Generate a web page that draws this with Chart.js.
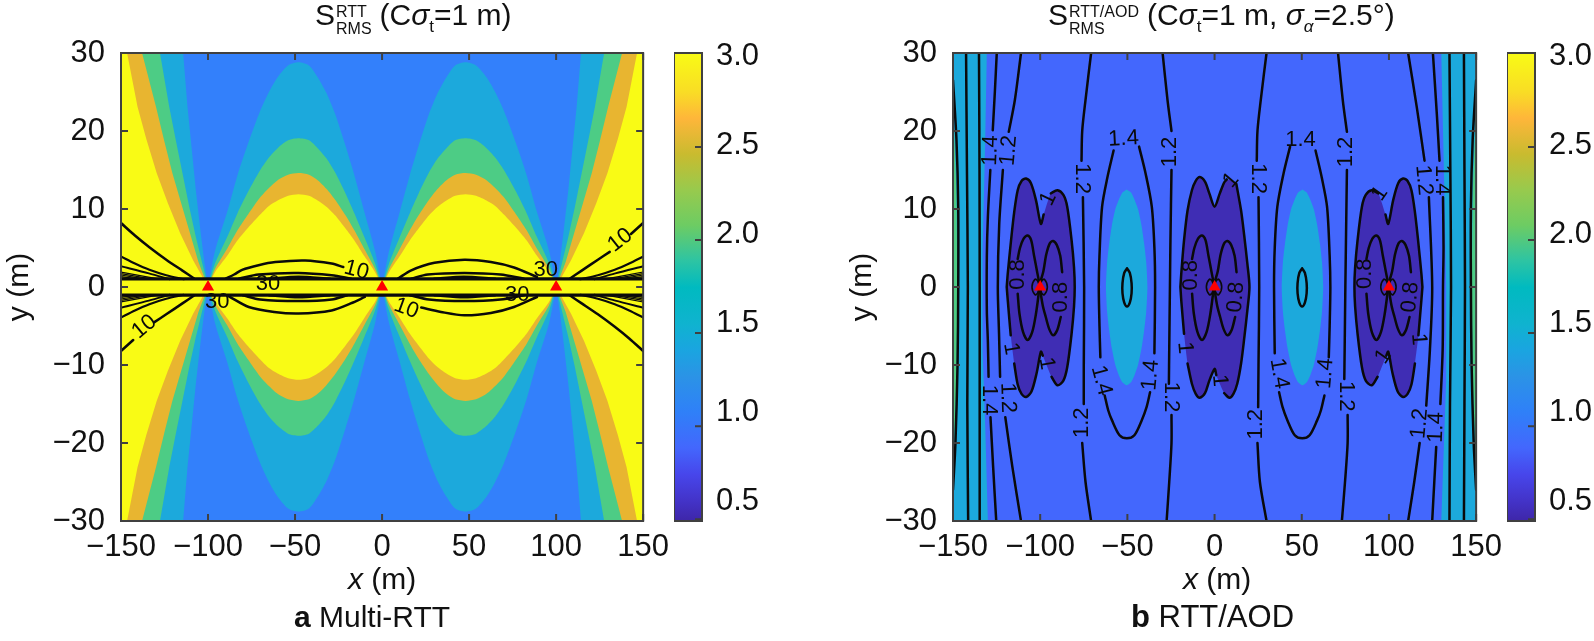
<!DOCTYPE html>
<html>
<head>
<meta charset="utf-8">
<title>SRMS contours</title>
<script src="https://cdn.jsdelivr.net/npm/chart.js@4"></script>
<style>
    html, body { margin: 0; padding: 0; background: #fff; }
    body { position: relative; width: 1594px; height: 641px; overflow: hidden; font-family: "Liberation Sans", Arial, sans-serif; color: #111; }
    canvas { position: absolute; top: 0; }
    .label { position: absolute; white-space: nowrap; font-size: 30px; line-height: 34px; }
    .stack { display: inline-block; vertical-align: -9px; font-size: 16px; line-height: 17px; text-align: left; margin-left: 1px; margin-right: 8px; }
    .stack span { display: block; }
    sub { font-size: 17px; line-height: 0; }
</style>
</head>
<body>
<canvas id="plotA" width="677" height="641" style="left:0px"></canvas>
<canvas id="barA" width="103" height="641" style="left:674px"></canvas>
<canvas id="plotB" width="678" height="641" style="left:832px"></canvas>
<canvas id="barB" width="103" height="641" style="left:1507px"></canvas>

<div class="label" style="left:315px;top:-2px">S<span class="stack"><span>RTT</span><span>RMS</span></span>(C<i>σ</i><sub>t</sub>=1 m)</div>
<div class="label" style="left:1048px;top:-2px">S<span class="stack"><span>RTT/AOD</span><span>RMS</span></span>(C<i>σ</i><sub>t</sub>=1 m, <i>σ</i><sub><i>α</i></sub>=2.5°)</div>
<div class="label" style="left:348px;top:562px"><i>x</i> (m)</div>
<div class="label" style="left:1183px;top:562px"><i>x</i> (m)</div>
<div class="label" style="left:294px;top:600px"><b>a</b> Multi-RTT</div>
<div class="label" style="left:1131px;top:600px;font-size:31px"><b>b</b> RTT/AOD</div>

<script>
// Axis ticks
const xTicks = [-150, -100, -50, 0, 50, 100, 150];
const yTicks = [-30, -20, -10, 0, 10, 20, 30];
const colorbarTicks = [0.5, 1, 1.5, 2, 2.5, 3];
const colorbarTickMarks = [2.49, 1.967, 1.444, 0.921, 0.398];
const anchorsX = [-100, 0, 100];

// Colorbar
const colorbarValues = [0.388, 0.5, 0.65, 0.8, 1.0, 1.2, 1.35, 1.5, 1.7, 1.85, 2.05, 2.25, 2.45, 2.65, 2.8, 3.018];
const colorbarColors = ['#3e26a8', '#4333c8', '#4746eb', '#4367fd', '#2f80f8', '#2b93e6', '#1aa5e0', '#0fb3cf', '#00bac0', '#2dc4a3', '#6dcc63', '#98ca4d', '#c9bb2f', '#feb63a', '#f9dd25', '#f9fb15'];

// Panel a: arches between anchors (x from 0 to 100, mirrored to the other side)
const archX = [0, 4, 10, 16, 21, 27, 32, 37, 42, 48, 54, 60, 65, 70, 77, 83, 89, 96, 100];
const arch15 = [0, 4.6, 9.5, 14.4, 18.1, 22.2, 24.9, 26.9, 28.4, 28.8, 28.4, 26.9, 25, 22.6, 18.4, 14.4, 9.6, 4.6, 0];
const arch20 = [0, 3, 6.3, 9.5, 12, 14.7, 16.5, 17.8, 18.8, 19.06, 18.8, 17.8, 16.6, 15, 12.2, 9.5, 6.4, 3, 0];
const arch25 = [0, 2.3, 4.8, 7.3, 9.2, 11.2, 12.6, 13.7, 14.4, 14.6, 14.4, 13.7, 12.7, 11.5, 9.3, 7.3, 4.9, 2.3, 0];
const arch30 = [0, 1.9, 3.9, 6, 7.5, 9.2, 10.3, 11.1, 11.7, 11.9, 11.7, 11.1, 10.4, 9.3, 7.6, 6, 4, 1.9, 0];

// Panel a: outer wedges in the upper left quadrant
const wedge15 = [[-100, 0], [-102.3, 3.5], [-104.5, 7.5], [-107, 12.4], [-109.5, 18], [-111.8, 23.1], [-114.3, 30]];
const wedge20 = [[-100, 0], [-103.5, 3.2], [-107, 6.4], [-110.8, 10.3], [-114.7, 14.6], [-118.5, 18.8], [-122.3, 23.1], [-127.6, 30]];
const wedge25 = [[-100, 0], [-105.5, 3.2], [-110.9, 7.3], [-115.5, 10.8], [-120.5, 14.6], [-125, 18.6], [-129.9, 23.1], [-137.9, 30]];
const wedge30 = [[-100, 0], [-108.5, 3.4], [-116, 6.9], [-123, 10.7], [-129.5, 14.6], [-135.5, 19], [-140.5, 23.1], [-146.5, 30]];

// Panel a: contour lines
const fan10 = [[-150, 8.2], [-142, 6.6], [-133.7, 5.1], [-124, 3.5], [-114.7, 2.1], [-108, 1.1]];
const fan10Gap = [[-150, 8.2], [-143, 6.8], null, [-130.8, 4.5], [-124, 3.5], [-114.7, 2.1], [-108, 1.1]];
const fan2 = [[-150, 3.9], [-142, 3], [-133.7, 2.2], [-124, 1.5], [-114, 1]];
const fan3 = [[-150, 2.65], [-134, 1.75], [-122, 1]];
const fan4 = [[-150, 1.92], [-128, 1]];
const fan5 = [[-150, 1.72], [-132, 1]];
const fan6 = [[-150, 1.54], [-136, 1]];
const fan7 = [[-150, 1.33], [-140, 1]];
const bandTop = [[-150, 1.05], [150, 1.05]];
const bandBottom = [[-150, -1.05], [150, -1.05]];

const lensLeftTop10 = [[-89.9, 1.07], [-85, 1.6], [-80.4, 2.2], [-71, 2.8], [-61.3, 3.2], [-44.2, 3.4], [-29, 3], [-22.3, 2.56]];
const lensLeftTop20 = [[-82.3, 1.07], [-70.9, 1.6], [-48, 1.8], [-29, 1.5], [-17.7, 1.07]];
const lensLeftTop30 = [[-65, 1.05], [-48, 1.3], [-30, 1.05]];
const lensLeftBottom10 = [[-88, -1.2], [-76.6, -2.56], [-62, -3.2], [-48, -3.4], [-29, -3], [-18, -2.1], [-9.9, -1.28]];
const lensLeftBottom20 = [[-80, -1.05], [-70, -1.6], [-48, -1.8], [-29, -1.6], [-20, -1.05]];
const lensLeftBottom30 = [[-65, -1.05], [-48, -1.3], [-30, -1.05]];
const lensRightTop10 = [[9.1, 1.07], [16.8, 2.14], [30.1, 3.1], [47.3, 3.5], [62.5, 3.2], [75.8, 2.5], [89, 1.28]];
const lensRightTop20 = [[16.8, 1.07], [26.3, 1.6], [47.3, 1.8], [68, 1.6], [81.5, 1.07]];
const lensRightTop30 = [[30, 1.05], [47, 1.3], [65, 1.05]];
const lensRightBottom10 = [[22.5, -2.64], [33.9, -3.2], [47.3, -3.63], [62.5, -3.33], [75.8, -2.56], [89, -1.28]];
const lensRightBottom20 = [[16, -1.05], [27, -1.6], [47.3, -1.8], [68, -1.6], [81.5, -1.05]];
const lensRightBottom30 = [[30, -1.05], [47, -1.3], [65, -1.05]];

// text, x, y, rotation in degrees
const labelsA = [
    ['10', -14.7, 2.14, 15], ['30', -65.5, 0.43, 0], ['30', -94.7, -1.9, 0], ['10', 13.9, -2.77, 20],
    ['30', 94, 2.14, 0], ['30', 77.7, -1.07, 0], ['10', 136.8, 6, -38], ['10', -136.6, -5.1, -40]
];

// Panel b: fills
const cyanLeft = [[-150, 30], [-130.6, 30], [-131.6, 18], [-133, 5], [-133.3, 0], [-132.8, -8], [-131.5, -18], [-130, -30], [-150, -30]];
const cyanRight = [[150, 30], [130, 30], [131.8, 12], [132.8, 0], [132.8, -12], [130, -30], [150, -30]];
const greenSliver = [[-150, 24], [-148, 12], [-147.5, 0], [-148, -12], [-150, -24]];
const cyanOval = [[-50.4, 12.5], [-47.9, 12.1], [-45.9, 11.2], [-43.9, 10], [-41.9, 7.9], [-40.4, 5.6], [-39.2, 3.2], [-38.5, 0], [-39.2, -3.2], [-40.4, -5.6], [-41.9, -7.9], [-43.9, -10], [-45.9, -11.3], [-47.9, -12.2], [-50.4, -12.6], [-52.9, -12.2], [-54.9, -11.3], [-56.9, -10], [-58.9, -7.9], [-60.4, -5.6], [-61.6, -3.2], [-62.3, 0], [-61.6, 3.2], [-60.4, 5.6], [-58.9, 7.9], [-56.9, 10], [-54.9, 11.2], [-52.9, 12.1]];

// Panel b: the 1 contour around each anchor, null marks a label gap
const lobeSide = [[-119.2, 0], [-118.6, 1.7], [-116.7, 6], [-114.9, 9.6], [-112.9, 12.4], [-110.7, 13.6], [-108.1, 13.9], [-105.3, 13.3], [-102.4, 11.1], [-99.6, 8.1], [-98, 9.3], null, [-93.9, 12], [-90.1, 12.4], [-86.7, 11.8], [-84.5, 10.3], [-82, 6], [-80.6, 2.5], [-80.2, 0], [-80.6, -2.5], [-82, -6], [-84.5, -10.3], [-86.7, -12], [-90.1, -12.6], [-93.5, -11.5], null, [-98.5, -8.8], [-99.6, -8.3], [-102, -11], [-105, -13.4], [-108.1, -14.1], [-110.7, -13.7], [-112.9, -12.5], [-114.9, -9.8], null, [-116.9, -6.2], [-118.6, -1.7], [-119.2, 0]];
const lobeCentre = [[-19.6, 0], [-19, 2], [-17.5, 6], [-15.5, 9.8], [-13, 12.4], [-10.8, 13.6], [-8.5, 14.1], [-5.5, 13.5], [-3, 12], [0, 10.3], [3, 12], [5.5, 13.4], [7, 13.8], null, [12.5, 13.2], [15.2, 9.8], [17, 6.6], [18.8, 3], [20, 0], [18.8, -3], [17, -6.6], [15.2, -9.8], [13, -12.4], [10.8, -13.7], [8.5, -14.2], [5.5, -13.6], null, [1, -11.3], [0, -10.5], [-3, -12], [-5.5, -13.6], [-8.5, -14.2], [-10.8, -13.7], [-13, -12.4], [-15.5, -9.8], null, [-17.5, -6], [-19, -2], [-19.6, 0]];

// Panel b: the 0.8 contours next to the anchor at -100, repeated at the others
const arcUpperLeft = [[-112.9, 3.6], [-111.6, 5], [-109.5, 6.2], [-107.2, 6.6], [-105.2, 6], [-103.5, 4], [-101.8, 2], [-100.6, 0.6]];
const arcUpperRight = [[-100, 0.6], [-98.2, 2], [-96.5, 4.2], [-94.5, 5.6], [-92.6, 5.9], [-90.5, 5.4], [-88.5, 4], [-87.4, 1.9]];
const arcLowerLeft = [[-112.9, -0.85], [-111.9, -3.4], [-109.8, -5.8], [-107.2, -6.8], [-104.6, -5.8], [-102.4, -3.4], [-100.6, -0.4]];
const arcLowerRight = [[-100, -0.4], [-98.5, -2.4], [-96.8, -3.85], [-94.8, -5.4], [-92.6, -6.2], [-90.2, -5.5], [-88.2, -3.85]];
const bowtieLeft = [[-100.3, 0], [-101.5, 0.8], [-103, 1], [-104.7, 0], [-103, -1], [-101.5, -0.8], [-100.3, 0]];
const bowtieRight = [[-100.3, 0], [-99.1, 0.8], [-97.6, 1], [-95.9, 0], [-97.6, -1], [-99.1, -0.8], [-100.3, 0]];

// Panel b: vertical contours
const edgeLine = [[-150, 26.5], [-148, 18.8], [-147, 10.3], [-147, 0], [-147.4, -10], [-148.6, -20], [-150, -26]];
const farLeftA = [[-142.5, 30], [-142, 15], [-141.5, 0], [-141.8, -15], [-141.3, -30]];
const farLeftB = [[-135.1, 30], [-134.8, 15], [-134.7, 0], [-134.7, -15], [-134.7, -30]];
const left14 = [[-124.9, 30], [-126, 25], [-127.2, 20.1], null, [-128.6, 15], [-130, 9], [-130.6, 3.85], [-130.6, -3], [-130, -7], [-129.6, -11.5], null, [-128.5, -16.7], [-127, -23], [-125.2, -30]];
const left12 = [[-111, 30], [-114.5, 24], [-118, 19.9], null, [-121.4, 15], [-123.5, 8], [-124.3, 0], [-123.6, -6], [-123, -11.5], null, [-120, -16.7], [-116, -23], [-111, -30]];
const farRightA = [[134.7, 30], [135.2, 15], [135.6, 0], [135, -15], [134.7, -30]];
const farRightB = [[143, 30], [143.3, 15], [143.6, 0], [143.3, -15], [143, -30]];
const right14 = [[125.2, 30], [127.5, 22], [129, 16.2], null, [131, 11.5], [131.3, 5], [131, 0], [130.8, -8], [129.5, -15], null, [127.1, -20.5], [126, -25], [124.8, -30]];
const right12 = [[111, 30], [116, 23], [120.4, 16.2], null, [122.9, 11.5], [124.8, 0], [123.5, -8], [121.4, -15.2], null, [117.6, -20], [114.5, -25], [111, -30]];
const mid12A = [[-70.8, 30], [-74, 24], [-75.9, 20], [-76.3, 16.2], null, [-75.5, 11.5], [-74.8, 0], [-75, -10], [-75, -15], null, [-75.9, -20], [-74, -25], [-70.8, -30]];
const mid12B = [[-29.8, 30], [-27, 24], [-24.7, 20], null, [-24.7, 15], [-25.3, 6], [-25.6, 0], [-26, -8], [-26.2, -12.4], null, [-24.7, -16.4], [-24.7, -20], [-26, -25], [-27.5, -30]];
const mid12C = [[29.8, 30], [26.5, 24], [24.6, 20], [24.2, 16.2], null, [25.2, 11.5], [25.6, 0], [25.2, -10], [25, -15.4], null, [24.6, -20], [26, -25], [29.8, -30]];
const mid12D = [[70.8, 30], [73.5, 24], [75.9, 19.9], null, [75.9, 15], [75, 0], [74.6, -8], [74.4, -11.8], null, [76.3, -16.4], [76.3, -20], [74.8, -25], [73, -30]];
const oval14 = [[-57.9, 17.5], [-61.5, 14], [-64.5, 10.3], [-66, 4], [-66.4, 0], [-66, -5], [-65.5, -9], null, [-63, -13.9], [-61, -15.8], [-58.8, -17.1], [-54.5, -19], [-50.3, -19.4], [-46, -19], [-41.8, -17.1], [-39, -15.4], [-37, -13.5], null, [-34.5, -8.5], [-34.1, 0], [-34.5, 5], [-36, 10.3], [-39.5, 14.5], [-43.3, 18]];
const ovalInner = [[-50.2, 2.4], [-48.6, 1.8], [-47.6, 0.5], [-47.6, -0.8], [-48.6, -2], [-50.2, -2.5], [-51.8, -2], [-52.8, -0.8], [-52.8, 0.5], [-51.8, 1.8], [-50.2, 2.4]];

const labelsB = [
    ['1.4', -128.5, 17.5, -88], ['1.2', -118, 17.5, -85], ['1.2', -75.9, 13.9, 90], ['1.4', -52.2, 19, -3], ['1.2', -25.6, 17.3, -90],
    ['1', -95.3, 11.3, -65], ['0.8', -112.9, 1.6, -90], ['0.8', -88.2, -1.3, -90], ['1', -116.7, -7.9, 80], ['1', -96.4, -9.8, 80],
    ['1.4', -129.3, -14.5, 90], ['1.2', -118.6, -14.2, 88], ['1.2', -76.3, -17.4, -90], ['1.4', -64.9, -12, 75], ['1.4', -36.7, -11.3, -85],
    ['1.2', -24.7, -14.1, 90], ['1', -17.1, -7.8, 85], ['0.8', -13.3, 1.5, -90], ['0.8', 12.3, -1.3, -85], ['1', 2.8, -12, 85],
    ['1', 9.5, 13.7, -50], ['1.2', 25.2, 13.9, 90], ['1.4', 49.3, 18.8, 0], ['1.2', 75.5, 17.3, -90], ['1', 94.8, 12, -55],
    ['1.2', 119.9, 13.7, 85], ['1.4', 130.5, 13.7, 90], ['0.8', 86.5, 1.7, -90], ['0.8', 112.3, -1.3, -85], ['1', 117, -6.7, 85],
    ['1', 96.8, -8.9, -55], ['1.4', 37, -11.1, 80], ['1.4', 63.5, -11.1, -85], ['1.2', 75.5, -14, 90], ['1.2', 23.7, -17.6, -90],
    ['1.2', 117.6, -17.5, -85], ['1.4', 127.1, -18, -88]
];

const CONTOUR_COLOR = '#0a0a0a';
const FRAME_COLOR = '#404040';
const TICK_SIZE = 31;

Chart.defaults.font.family = '"Liberation Sans", Arial, sans-serif';
Chart.defaults.animation = false;

// Helpers
const mirrorX = a => a.map(p => p && [-p[0], p[1]]);
const mirrorY = a => a.map(p => p && [p[0], -p[1]]);
const shiftX = (a, dx) => a.map(p => p && [p[0] + dx, p[1]]);
const toPoints = a => a.map(p => p ? { x: p[0], y: p[1] } : { x: NaN, y: NaN });
const minusSign = v => String(v).replace('-', '\u2212');

function fillSet(list, color, tension = 0) {
    return {
        data: toPoints(list.filter(p => p)),
        showLine: true,
        pointRadius: 0,
        borderWidth: 0,
        borderColor: color,
        backgroundColor: color,
        fill: 'shape',
        tension
    };
}

function lineSet(list, width = 2.5) {
    return {
        data: toPoints(list),
        showLine: true,
        pointRadius: 0,
        borderWidth: width,
        borderColor: CONTOUR_COLOR,
        fill: false,
        tension: 0.3,
        borderCapStyle: 'round',
        borderJoinStyle: 'round'
    };
}

function markerSet() {
    return {
        data: anchorsX.map(x => ({ x, y: 0 })),
        showLine: false,
        pointStyle: 'triangle',
        pointRadius: 7,
        pointBorderWidth: 0,
        backgroundColor: '#ff0000',
        borderColor: '#ff0000'
    };
}

// Painted in list order, so later sets sit on top
function paintOrder(sets) {
    sets.forEach((s, i) => { s.order = sets.length - i; });
    return sets;
}

const axisFrame = {
    id: 'axisFrame',
    afterDraw(chart, args, opts) {
        const { ctx, chartArea: a, scales } = chart;
        const len = 7;
        ctx.save();
        ctx.strokeStyle = FRAME_COLOR;
        ctx.lineWidth = 2;
        ctx.beginPath();
        if (opts.marks) {
            opts.marks.forEach(v => {
                const py = scales.y.getPixelForValue(v);
                ctx.moveTo(a.right, py);
                ctx.lineTo(a.right - len, py);
            });
        } else {
            xTicks.forEach(v => {
                const px = scales.x.getPixelForValue(v);
                ctx.moveTo(px, a.bottom);
                ctx.lineTo(px, a.bottom - len);
                ctx.moveTo(px, a.top);
                ctx.lineTo(px, a.top + len);
            });
            yTicks.forEach(v => {
                const py = scales.y.getPixelForValue(v);
                ctx.moveTo(a.left, py);
                ctx.lineTo(a.left + len, py);
                ctx.moveTo(a.right, py);
                ctx.lineTo(a.right - len, py);
            });
        }
        ctx.stroke();
        ctx.strokeRect(a.left, a.top, a.right - a.left, a.bottom - a.top);
        ctx.restore();
    }
};

const contourText = {
    id: 'contourText',
    afterDatasetsDraw(chart, args, opts) {
        const { ctx, scales } = chart;
        ctx.save();
        ctx.font = opts.size + 'px "Liberation Sans", Arial, sans-serif';
        ctx.fillStyle = '#0a0a0a';
        ctx.textAlign = 'center';
        ctx.textBaseline = 'middle';
        (opts.labels || []).forEach(([text, x, y, rot]) => {
            ctx.save();
            ctx.translate(scales.x.getPixelForValue(x), scales.y.getPixelForValue(y));
            ctx.rotate(rot * Math.PI / 180);
            ctx.fillText(text, 0, 0);
            ctx.restore();
        });
        ctx.restore();
    }
};

function plotOptions(labels, titlePad) {
    return {
        responsive: false,
        events: [],
        layout: { padding: { top: 53, right: 30, bottom: 0, left: 0 } },
        plugins: {
            legend: { display: false },
            tooltip: { enabled: false },
            contourText: { labels, size: 22 }
        },
        scales: {
            x: {
                type: 'linear',
                min: -150,
                max: 150,
                grid: { display: false, drawTicks: false },
                border: { display: false },
                afterBuildTicks: s => { s.ticks = xTicks.map(value => ({ value })); },
                afterFit: s => { s.height = 120; },
                ticks: { color: '#111', font: { size: TICK_SIZE }, padding: 8, maxRotation: 0, autoSkip: false, callback: minusSign }
            },
            y: {
                type: 'linear',
                min: -30,
                max: 30,
                grid: { display: false, drawTicks: false },
                border: { display: false },
                afterBuildTicks: s => { s.ticks = yTicks.map(value => ({ value })); },
                afterFit: s => { s.width = 121; },
                title: { display: true, text: 'y (m)', color: '#111', font: { size: 30 }, padding: { top: titlePad, bottom: 0 } },
                ticks: { color: '#111', font: { size: TICK_SIZE }, padding: 16, autoSkip: false, callback: minusSign }
            }
        }
    };
}

function buildPanelA() {
    const sets = [];
    const rect = [[-150, -30], [150, -30], [150, 30], [-150, 30]];
    sets.push(fillSet(rect, '#3380fb'));
    const levels = [
        [arch15, wedge15, '#1ca9dc'],
        [arch20, wedge20, '#4dcc85'],
        [arch25, wedge25, '#e8b530'],
        [arch30, wedge30, '#f9fb15']
    ];
    levels.forEach(([arch, wedge, color]) => {
        const top = archX.map((x, i) => [x, arch[i]]);
        const lens = top.concat(mirrorY(top).reverse());
        sets.push(fillSet(lens, color, 0.25));
        sets.push(fillSet(mirrorX(lens), color, 0.25));
        const corner = [[-150, 0]].concat(wedge, [[-150, 30]]);
        sets.push(fillSet(corner, color));
        sets.push(fillSet(mirrorX(corner), color));
        sets.push(fillSet(mirrorY(corner), color));
        sets.push(fillSet(mirrorY(mirrorX(corner)), color));
    });
    sets.push(fillSet([[-150, -1], [150, -1], [150, 1], [-150, 1]], '#f9fb15'));

    sets.push(lineSet(fan10));
    sets.push(lineSet(mirrorX(fan10Gap)));
    sets.push(lineSet(mirrorY(fan10Gap)));
    sets.push(lineSet(mirrorY(mirrorX(fan10))));
    [[fan2, 2.2], [fan3, 2], [fan4, 1.2], [fan5, 1.2], [fan6, 1.2], [fan7, 1.2]].forEach(([f, w]) => {
        sets.push(lineSet(f, w));
        sets.push(lineSet(mirrorX(f), w));
        sets.push(lineSet(mirrorY(f), w));
        sets.push(lineSet(mirrorY(mirrorX(f)), w));
    });
    [lensLeftTop10, lensLeftTop20, lensLeftTop30, lensLeftBottom10, lensLeftBottom20, lensLeftBottom30,
        lensRightTop10, lensRightTop20, lensRightTop30, lensRightBottom10, lensRightBottom20, lensRightBottom30
    ].forEach(l => sets.push(lineSet(l)));
    sets.push(lineSet(bandTop, 3.2));
    sets.push(lineSet(bandBottom, 3.2));
    sets.push(markerSet());
    return paintOrder(sets);
}

function buildPanelB() {
    const sets = [];
    sets.push(fillSet([[-150, -30], [150, -30], [150, 30], [-150, 30]], '#4367fd'));
    sets.push(fillSet(cyanLeft, '#1ca9dc'));
    sets.push(fillSet(cyanRight, '#1ca9dc'));
    sets.push(fillSet(greenSliver, '#4dcc85'));
    sets.push(fillSet(mirrorX(greenSliver), '#4dcc85'));
    sets.push(fillSet(cyanOval, '#1ca9dc', 0.2));
    sets.push(fillSet(mirrorX(cyanOval), '#1ca9dc', 0.2));
    sets.push(fillSet(lobeSide, '#3f2db4', 0.2));
    sets.push(fillSet(lobeCentre, '#3f2db4', 0.2));
    sets.push(fillSet(mirrorX(lobeSide), '#3f2db4', 0.2));

    [edgeLine, mirrorX(edgeLine), farLeftA, farLeftB, left14, left12, farRightA, farRightB, right14, right12,
        mid12A, mid12B, mid12C, mid12D, oval14, mirrorX(oval14), ovalInner, mirrorX(ovalInner),
        lobeSide, lobeCentre, mirrorX(lobeSide)
    ].forEach(l => sets.push(lineSet(l)));
    [0, 100, 200].forEach(dx => {
        [arcUpperLeft, arcUpperRight, arcLowerLeft, arcLowerRight].forEach(a => {
            sets.push(lineSet(shiftX(a, dx)));
        });
        [bowtieLeft, bowtieRight].forEach(a => {
            sets.push(lineSet(shiftX(a, dx), 1.6));
        });
    });
    sets.push(markerSet());
    return paintOrder(sets);
}

function drawColorbar(id) {
    new Chart(document.getElementById(id), {
        type: 'bar',
        data: {
            labels: [''],
            datasets: [{
                data: [[colorbarValues[0], colorbarValues[colorbarValues.length - 1]]],
                borderWidth: 0,
                barPercentage: 1,
                categoryPercentage: 1,
                backgroundColor: c => {
                    const area = c.chart.chartArea;
                    if (!area) return colorbarColors[0];
                    const y = c.chart.scales.y;
                    const grad = c.chart.ctx.createLinearGradient(0, area.bottom, 0, area.top);
                    const span = y.max - y.min;
                    colorbarValues.forEach((v, i) => grad.addColorStop((v - y.min) / span, colorbarColors[i]));
                    return grad;
                }
            }]
        },
        options: {
            responsive: false,
            events: [],
            layout: { padding: { top: 53, right: 0, bottom: 120, left: 0 } },
            plugins: {
                legend: { display: false },
                tooltip: { enabled: false },
                axisFrame: { marks: colorbarTickMarks }
            },
            scales: {
                x: { display: false },
                y: {
                    position: 'right',
                    min: colorbarValues[0],
                    max: colorbarValues[colorbarValues.length - 1],
                    grid: { display: false, drawTicks: false },
                    border: { display: false },
                    afterBuildTicks: s => { s.ticks = colorbarTicks.map(value => ({ value })); },
                    afterFit: s => { s.width = 75; },
                    ticks: { color: '#111', font: { size: TICK_SIZE }, padding: 14, autoSkip: false, callback: v => v.toFixed(1) }
                }
            }
        },
        plugins: [axisFrame]
    });
}

new Chart(document.getElementById('plotA'), {
    type: 'scatter',
    data: { datasets: buildPanelA() },
    options: plotOptions(labelsA, 2),
    plugins: [contourText, axisFrame]
});

new Chart(document.getElementById('plotB'), {
    type: 'scatter',
    data: { datasets: buildPanelB() },
    options: plotOptions(labelsB, 13),
    plugins: [contourText, axisFrame]
});

drawColorbar('barA');
drawColorbar('barB');
</script>
</body>
</html>
